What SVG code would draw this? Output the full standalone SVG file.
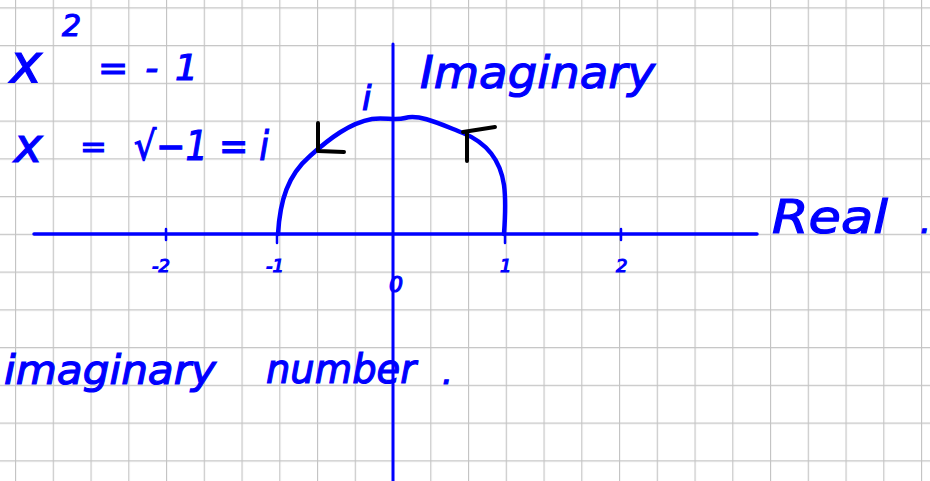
<svg xmlns="http://www.w3.org/2000/svg" width="930" height="481" viewBox="0 0 930 481">
<style>
.ink{fill:none;stroke:#0000ff;stroke-linecap:round;stroke-linejoin:round}
.blk{fill:none;stroke:#000;stroke-width:4;stroke-linecap:round;stroke-linejoin:round}
.hw{fill:#0000ff;font-family:"DejaVu Sans","Liberation Sans",sans-serif;font-style:italic;stroke:#0000ff;stroke-width:1.2}
</style>
<defs>
<pattern id="grid" patternUnits="userSpaceOnUse" x="15" y="7.3" width="37.75" height="37.75">
<path d="M0.5 0V37.75M0 0.5H37.75" stroke="#c4c4c4" stroke-width="1.3" fill="none"/>
</pattern>
</defs>
<rect width="930" height="481" fill="#fff"/>
<rect width="930" height="481" fill="url(#grid)"/>
<g id="axes">
<path class="ink" stroke-width="3.5" d="M34 234H757"/>
<path class="ink" stroke-width="3" d="M393 44V481"/>
<path class="ink" stroke-width="2.5" d="M166 229V240M621 229V240M277 234V243M505 234V243"/>
</g>
<g id="semicircle">
<path class="ink" stroke-width="4.5" d="M278 234C280 200 288 175 310 156C330 138 350 123 372 119C385 117 395 121 405 118C420 114 440 124 463 133C485 142 500 158 504 185C506 200 505 220 504 234"/>
</g>
<g id="arrows">
<path class="blk" d="M318 123V151L344 152"/>
<path class="blk" d="M463 132L495 127M467 133V161"/>
</g>
<g id="equations">
<text class="hw" x="10" y="82" font-size="54">x</text>
<text class="hw" x="62" y="36" font-size="30">2</text>
<text class="hw" x="98" y="80" font-size="36" textLength="100">= - 1</text>
<text class="hw" x="14" y="162" font-size="48">x</text>
<text class="hw" x="80" y="158" font-size="32">=</text>
<text class="hw" x="134" y="160" font-size="40" textLength="135" lengthAdjust="spacingAndGlyphs">√−1 = i</text>
</g>
<g id="labels">
<text class="hw" x="362" y="110" font-size="34">i</text>
<text class="hw" x="420" y="88" font-size="44" textLength="235" lengthAdjust="spacingAndGlyphs">Imaginary</text>
<text class="hw" x="772" y="233" font-size="46" textLength="116" lengthAdjust="spacingAndGlyphs">Real</text>
<text class="hw" x="920" y="233" font-size="34">.</text>
<text class="hw" x="152" y="272" font-size="18">-2</text>
<text class="hw" x="266" y="272" font-size="18">-1</text>
<text class="hw" x="389" y="292" font-size="22">0</text>
<text class="hw" x="500" y="272" font-size="18">1</text>
<text class="hw" x="616" y="272" font-size="18">2</text>
<text class="hw" x="4" y="384" font-size="40" textLength="212" lengthAdjust="spacingAndGlyphs">imaginary</text>
<text class="hw" x="266" y="383" font-size="40" textLength="150" lengthAdjust="spacingAndGlyphs">number</text>
<text class="hw" x="442" y="384" font-size="34">.</text>
</g>
</svg>
